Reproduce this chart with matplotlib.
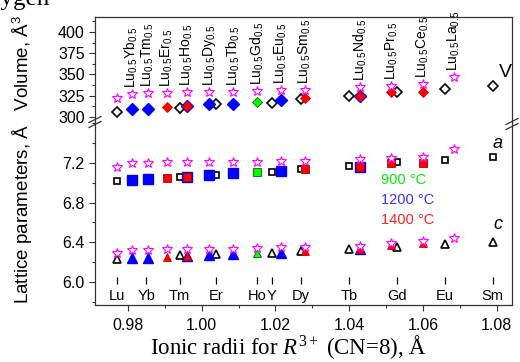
import matplotlib
matplotlib.use('Agg')
import matplotlib.pyplot as plt
from matplotlib.ticker import MultipleLocator

plt.rcParams['font.family'] = ['Liberation Sans', 'DejaVu Sans']
plt.rcParams['mathtext.fontset'] = 'custom'
plt.rcParams['mathtext.rm'] = 'Liberation Serif'
plt.rcParams['mathtext.it'] = 'Liberation Serif:italic'
plt.rcParams['mathtext.sf'] = 'Liberation Sans'

# pure R compounds (open black symbols)
pure_r = [0.977, 0.994, 1.004, 1.019, 1.027, 1.040, 1.053, 1.066, 1.079]
pure_V = [306.2, 310.2, 314.9, 316.0, 320.8, 325.0, 329.0, 332.5, 336.7]
pure_a = [7.022, 7.062, 7.079, 7.112, 7.140, 7.173, 7.207, 7.227, 7.257]
pure_c = [6.236, 6.270, 6.280, 6.296, 6.310, 6.330, 6.357, 6.380, 6.400]

# Lu0.5R0.5 compositions
mix_el = ['Yb', 'Tm', 'Er', 'Ho', 'Dy', 'Tb', 'Gd', 'Eu', 'Sm', 'Nd', 'Pr', 'Ce', 'La']
mix_r = [0.981, 0.9855, 0.9905, 0.996, 1.002, 1.0085, 1.015, 1.0215, 1.028,
         1.043, 1.0515, 1.060, 1.0685]

# magenta stars (Lu + all mixes)
star_r = [0.977] + mix_r
star_V = [322.6, 327.0, 327.8, 327.8, 329.3, 329.3, 329.3, 330.2, 331.7, 331.7,
          334.9, 336.4, 338.4, 347.3]
star_a = [7.163, 7.197, 7.197, 7.207, 7.207, 7.207, 7.207, 7.213, 7.223, 7.223,
          7.240, 7.247, 7.257, 7.341]
star_c = [6.290, 6.320, 6.320, 6.336, 6.336, 6.336, 6.336, 6.346, 6.357, 6.357,
          6.363, 6.390, 6.413, 6.447]

# 900 C
g_r = [1.015]
g_V = [318.0]
g_a = [7.106]
g_c = [6.290]

# 1200 C
b_r = [0.981, 0.9855, 0.996, 1.002, 1.0085, 1.0215, 1.043]
b_V = [309.0, 309.0, 313.0, 315.0, 315.6, 320.0, 325.0]
b_a = [7.029, 7.039, 7.062, 7.079, 7.096, 7.119, 7.163]
b_c = [6.246, 6.246, 6.260, 6.270, 6.280, 6.296, 6.330]

# 1400 C
r_r = [0.9905, 0.996, 1.028, 1.043, 1.0515, 1.060]
r_V = [311.4, 313.0, 322.0, 325.0, 329.7, 329.7]
r_a = [7.052, 7.062, 7.140, 7.163, 7.197, 7.197]
r_c = [6.250, 6.260, 6.310, 6.330, 6.373, 6.390]

# element marks along the bottom
el_names = ['Lu', 'Yb', 'Tm', 'Er', 'Ho', 'Y', 'Dy', 'Tb', 'Gd', 'Eu', 'Sm']
el_r = [0.977, 0.985, 0.994, 1.004, 1.015, 1.019, 1.027, 1.040, 1.053, 1.066, 1.079]

W, H = 520, 362
fig = plt.figure(figsize=(5.2, 3.62), dpi=100)
L, R, T, M, B = 95, 512, 17, 122, 305
ax_v = fig.add_axes([L / W, 1 - M / H, (R - L) / W, (M - T) / H])
ax_l = fig.add_axes([L / W, 1 - B / H, (R - L) / W, (B - M) / H])

xlim = (0.97105, 1.0842)
for ax in (ax_v, ax_l):
    ax.set_xlim(*xlim)
    for s in ax.spines.values():
        s.set_linewidth(0.9)
        s.set_color('#333333')
    ax.tick_params(direction='out', length=4, width=0.8, labelsize=11.5, color='#333333')
    ax.tick_params(which='minor', direction='out', length=2.5, width=0.8, color='#333333')

ax_v.spines['bottom'].set_visible(False)
ax_l.spines['top'].set_visible(False)
ax_v.tick_params(bottom=False, labelbottom=False, which='both')
ax_v.set_ylim(294.1, 417.6)
ax_v.yaxis.set_major_locator(MultipleLocator(25))
ax_v.yaxis.set_minor_locator(MultipleLocator(12.5))
ax_v.set_xticks([])

ax_l.set_ylim(5.768, 7.613)
ax_l.yaxis.set_major_locator(MultipleLocator(0.4))
ax_l.yaxis.set_minor_locator(MultipleLocator(0.2))
ax_l.set_yticks([6.0, 6.4, 6.8, 7.2])
ax_l.set_yticklabels(['6.0', '6.4', '6.8', '7.2'])
ax_l.xaxis.set_major_locator(MultipleLocator(0.02))
ax_l.xaxis.set_minor_locator(MultipleLocator(0.01))
ax_l.xaxis.set_major_formatter(plt.FormatStrFormatter('%.2f'))
ax_l.tick_params(axis='x', pad=5)

# volume (diamonds)
ax_v.plot(pure_r, pure_V, 'D', ms=4.8, mfc='white', mec='k', mew=1.2, ls='none')
ax_v.plot(b_r, b_V, 'D', ms=6.6, mfc='#0000ff', mec='#0000ff', ls='none')
ax_v.plot(r_r, r_V, 'D', ms=5.2, mfc='#ff0000', mec='#dd0000', mew=0.6, ls='none')
ax_v.plot(g_r, g_V, 'D', ms=5.2, mfc='#00ff00', mec='#007700', mew=0.6, ls='none')
ax_v.plot(star_r, star_V, '*', ms=7, mfc='white', mec='#ff00ff', mew=0.8, ls='none')

# a (squares)
ax_l.plot(pure_r, pure_a, 's', ms=5, mfc='white', mec='k', mew=1.2, ls='none')
ax_l.plot(b_r, b_a, 's', ms=6.5, mfc='#0000ff', mec='#0000ff', ls='none')
ax_l.plot(r_r, r_a, 's', ms=5.5, mfc='#ff0000', mec='#aa0000', mew=0.6, ls='none')
ax_l.plot(g_r, g_a, 's', ms=5.5, mfc='#00ff00', mec='#006600', mew=0.6, ls='none')
ax_l.plot(star_r, star_a, '*', ms=7, mfc='white', mec='#ff00ff', mew=0.8, ls='none')

# c (triangles)
ax_l.plot(pure_r, pure_c, '^', ms=6, mfc='white', mec='k', mew=1.2, ls='none')
ax_l.plot(b_r, b_c, '^', ms=7, mfc='#0000ff', mec='#0000ff', ls='none')
ax_l.plot(r_r, r_c, '^', ms=6, mfc='#ff0000', mec='#cc0000', mew=0.6, ls='none')
ax_l.plot(g_r, g_c, '^', ms=6, mfc='#00ff00', mec='#006600', mew=0.6, ls='none')
ax_l.plot(star_r, star_c, '*', ms=7, mfc='white', mec='#ff00ff', mew=0.8, ls='none')

# composition labels
for x, el, v in zip(mix_r, mix_el, star_V[1:]):
    ax_v.text(x, v + 7, 'Lu$_\\mathsf{0.5}$' + el + '$_\\mathsf{0.5}$', rotation=90,
              ha='center', va='bottom', fontsize=10)

# element marks
ax_l.vlines(el_r, 5.975, 6.05, color='k', lw=0.9)
for x, el in zip(el_r, el_names):
    ax_l.text(x, 5.855, el, ha='center', va='center', fontsize=10.5)

# annotations
ax_l.text(1.0486, 7.029, '900 °C', color='#00ee00', fontsize=10.5, va='center')
ax_l.text(1.0486, 6.827, '1200 °C', color='#3333ff', fontsize=10.5, va='center')
ax_l.text(1.0486, 6.626, '1400 °C', color='#ff2222', fontsize=10.5, va='center')
ax_l.text(1.0804, 7.40, 'a', style='italic', fontsize=13, ha='center', va='center')
ax_l.text(1.0804, 6.58, 'c', style='italic', fontsize=13, ha='center', va='center')
ax_v.text(1.0823, 351.8, 'V', fontsize=14, ha='center', va='center')

# axis labels
fig.text(22 / W, 1 - 159 / H, 'Lattice parameters, Å   Volume, Å$^\\mathsf{3}$',
         rotation=90, ha='center', va='center', fontsize=13.5)
fig.text(289 / W, 1 - 347 / H, 'Ionic radii for $R^{3+}$ (CN=8), Å',
         family='Liberation Serif', ha='center', va='center', fontsize=16.5)
fig.text(-30 / W, 1 - 5 / H, 'Oxygen', family='Liberation Serif', fontsize=18,
         ha='left', va='baseline')

# break marks
def brk(xc, yc):
    for dy in (-2.5, 2.5):
        fig.add_artist(plt.Line2D([(xc - 6) / W, (xc + 6) / W],
                                  [1 - (yc + dy + 3) / H, 1 - (yc + dy - 3) / H],
                                  transform=fig.transFigure, color='#333333', lw=0.9))

brk(L, 122)
brk(R, 124)

fig.savefig('out.png', dpi=100)
